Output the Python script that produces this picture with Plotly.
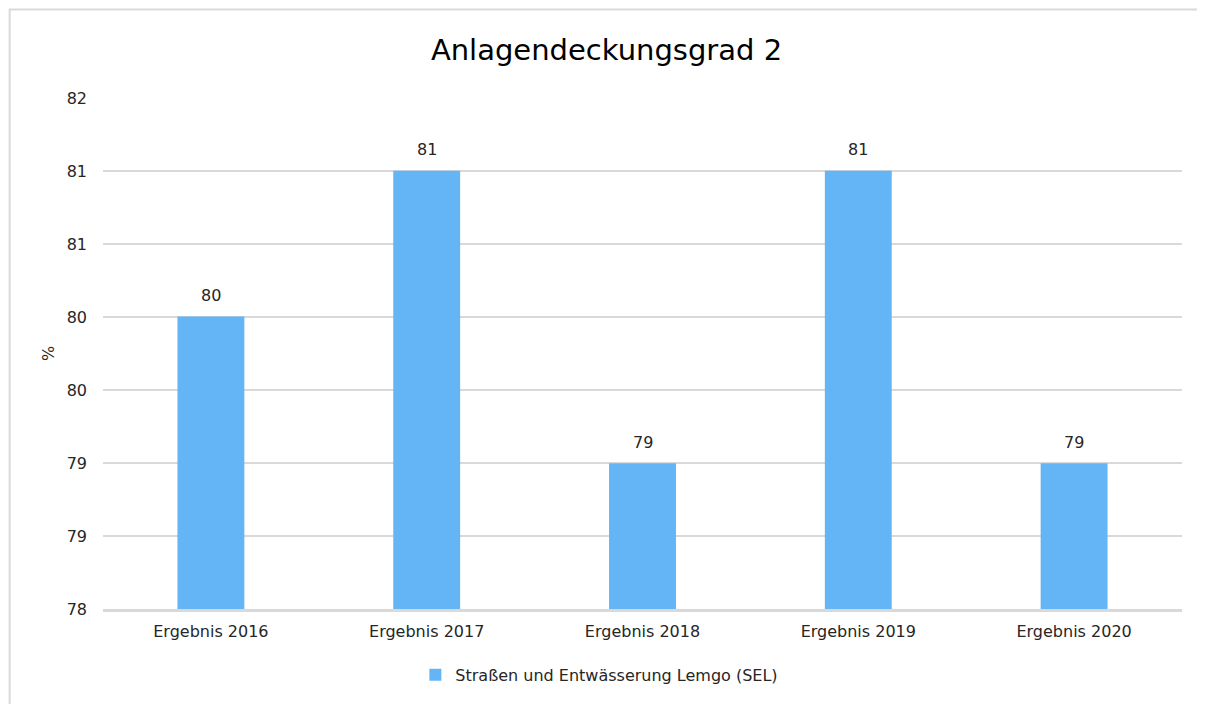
import plotly.graph_objects as go

categories = ["Ergebnis 2016", "Ergebnis 2017", "Ergebnis 2018", "Ergebnis 2019", "Ergebnis 2020"]
values = [80.29, 81.43, 79.14, 81.43, 79.14]
value_labels = ["80", "81", "79", "81", "79"]
tick_values = [78.0, 78.571, 79.143, 79.714, 80.286, 80.857, 81.429, 82.0]
tick_labels = ["78", "79", "79", "80", "80", "81", "81", "82"]
series_name = "Straßen und Entwässerung Lemgo (SEL)"

fig = go.Figure()
fig.add_trace(go.Bar(
    x=categories, y=values, name=series_name,
    marker=dict(color="#64B5F6", line=dict(width=0)),
))

# data labels sit a bit above the bars, like in Excel
for cat, val, lab in zip(categories, values, value_labels):
    fig.add_annotation(x=cat, y=val, text=lab, showarrow=False, yshift=21,
                       font=dict(size=16, color="#262626"))

fig.update_layout(
    width=1197, height=696,
    margin=dict(l=95, r=23, t=90, b=85),
    paper_bgcolor="white", plot_bgcolor="white",
    font=dict(family="DejaVu Sans, Verdana", size=16, color="#262626"),
    title=dict(text="Anlagendeckungsgrad 2", x=0.5, xanchor="center", y=0.94, yanchor="middle",
               font=dict(size=29, color="#000000")),
    bargap=0.69,
    showlegend=True,
    legend=dict(orientation="h", x=0.46, xanchor="center", y=-0.129, yanchor="middle",
                font=dict(size=16), itemwidth=30),
    xaxis=dict(showgrid=False, showline=True, linecolor="#d9d9d9", linewidth=2.5,
               ticks="", tickfont=dict(size=16), ticklabelstandoff=6, automargin=False),
    yaxis=dict(range=[78, 82], tickvals=tick_values, ticktext=tick_labels,
               showgrid=True, gridcolor="#d9d9d9", gridwidth=1.5, zeroline=False,
               ticks="", showline=False, ticklabelstandoff=15, automargin=False,
               title=dict(text="%", font=dict(size=16), standoff=8)),
)

# chart area border
fig.add_shape(type="rect", xref="paper", yref="paper",
              x0=-0.0865, x1=1.03, y0=-0.2, y1=1.173,
              line=dict(color="#d9d9d9", width=2), fillcolor="rgba(0,0,0,0)", layer="below")

fig.write_html("out.html")
